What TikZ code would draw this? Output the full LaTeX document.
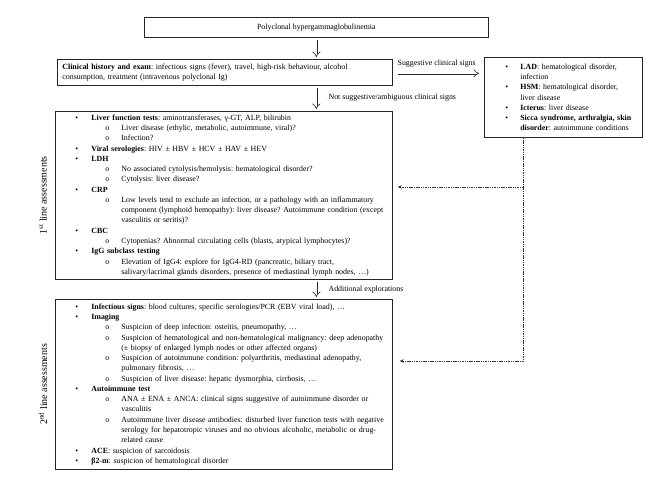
\documentclass[tikz,border=0pt]{standalone}
\usepackage{fontspec}
\setmainfont{Liberation Serif}
\usetikzlibrary{arrows.meta}
\frenchspacing
\newcommand\fs{\fontsize{7.9}{10.27}\selectfont}
\newcommand\bulA[1]{\mbox{\hspace*{20pt}\makebox[16pt][l]{•}#1}}
\newcommand\subA[1]{\mbox{\hspace*{50pt}\makebox[16pt][l]{o}#1}}
\newcommand\contA[1]{\mbox{\hspace*{66pt}#1}}
\newcommand\bulR[1]{\mbox{\hspace*{21pt}\makebox[15pt][l]{•}#1}}
\newcommand\contR[1]{\mbox{\hspace*{36pt}#1}}
\tikzset{
  box/.style={draw=black!85, line width=0.7pt, inner sep=0pt, align=left, font=\fs, anchor=north west},
  dbl/.style={double, double distance=2.2pt, line width=0.6pt, draw=black!85, -{Implies}},
  dsh/.style={draw=black!80, line width=0.6pt, dash pattern=on 1.5pt off 0.8pt, -{Stealth[length=4pt,width=3.5pt]}},
  lab/.style={font=\fs, inner sep=0pt},
  side/.style={font=\fontsize{10}{12}\selectfont, rotate=90, inner sep=0pt}
}
\begin{document}
\begin{tikzpicture}[x=1pt,y=-1pt]
\useasboundingbox[fill=white] (0,0) rectangle (661,482);

\node[box, minimum width=344pt, minimum height=20pt, align=center] (top) at (144,17) {Polyclonal hypergammaglobulinemia};

\node[box, text width=325pt, inner xsep=5pt, minimum height=26pt] (clin) at (57,59)
{\makebox[325pt][s]{\textbf{Clinical history and exam}: infectious signs (fever), travel, high-risk behaviour, alcohol}\\
consumption, treatment (intravenous polyclonal Ig)};

\node[box, text width=158pt, minimum height=80pt] (right) at (484,57)
{\bulR{\textbf{LAD}: hematological disorder,}\\
\contR{infection}\\
\bulR{\textbf{HSM}: hematological disorder,}\\
\contR{liver disease}\\
\bulR{\textbf{Icterus}: liver disease}\\
\bulR{\textbf{Sicca syndrome, arthralgia, skin}}\\
\contR{\textbf{disorder}: autoimmune conditions}};

\node[box, text width=337pt, minimum height=168pt] (first) at (55,111)
{\bulA{\textbf{Liver function tests}: aminotransferases, γ-GT, ALP, bilirubin}\\
\subA{Liver disease (ethylic, metabolic, autoimmune, viral)?}\\
\subA{Infection?}\\
\bulA{\textbf{Viral serologies}: HIV ± HBV ± HCV ± HAV ± HEV}\\
\bulA{\textbf{LDH}}\\
\subA{No associated cytolysis/hemolysis: hematological disorder?}\\
\subA{Cytolysis: liver disease?}\\
\bulA{\textbf{CRP}}\\
\subA{Low levels tend to exclude an infection, or a pathology with an inflammatory}\\
\contA{component (lymphoid hemopathy): liver disease? Autoimmune condition (except}\\
\contA{vasculitis or seritis)?}\\
\bulA{\textbf{CBC}}\\
\subA{Cytopenias? Abnormal circulating cells (blasts, atypical lymphocytes)?}\\
\bulA{\textbf{IgG subclass testing}}\\
\subA{Elevation of IgG4: explore for IgG4-RD (pancreatic, biliary tract,}\\
\contA{salivary/lacrimal glands disorders, presence of mediastinal lymph nodes, …)}};

\node[box, text width=337pt, minimum height=170pt] (second) at (55,299)
{\bulA{\textbf{Infectious signs}: blood cultures, specific serologies/PCR (EBV viral load), …}\\
\bulA{\textbf{Imaging}}\\
\subA{Suspicion of deep infection: osteitis, pneumopathy, …}\\
\subA{Suspicion of hematological and non-hematological malignancy: deep adenopathy}\\
\contA{(± biopsy of enlarged lymph nodes or other affected organs)}\\
\subA{Suspicion of autoimmune condition: polyarthritis, mediastinal adenopathy,}\\
\contA{pulmonary fibrosis, …}\\
\subA{Suspicion of liver disease: hepatic dysmorphia, cirrhosis, …}\\
\bulA{\textbf{Autoimmune test}}\\
\subA{ANA ± ENA ± ANCA: clinical signs suggestive of autoimmune disorder or}\\
\contA{vasculitis}\\
\subA{Autoimmune liver disease antibodies: disturbed liver function tests with negative}\\
\contA{serology for hepatotropic viruses and no obvious alcoholic, metabolic or drug-}\\
\contA{related cause}\\
\bulA{\textbf{ACE}: suspicion of sarcoidosis}\\
\bulA{\textbf{β2-m}: suspicion of hematological disorder}};

\node[side] (s1) at ([xshift=-12pt]first.west) {1\textsuperscript{st} line assessments};
\node[side] (s2) at ([xshift=-12pt]second.west) {2\textsuperscript{nd} line assessments};

% vertical arrows
\draw[dbl] ([yshift=-2pt]top.south) -- ([yshift=2pt]top.south |- clin.north);
\draw[dbl] ([yshift=-2pt]top.south |- clin.south) -- ([yshift=2pt]top.south |- first.north);
\draw[dbl] ([yshift=-2pt]top.south |- first.south) -- ([yshift=2pt]top.south |- second.north);
\node[lab, anchor=west] (l1) at ([xshift=12pt,yshift=-12pt]top.south |- clin.south) {Not suggestive/ambiguous clinical signs};
\node[lab, anchor=west] (l2) at ([xshift=12pt,yshift=-10pt]top.south |- first.south) {Additional explorations};

% horizontal arrow
\draw[dbl] ([xshift=5pt,yshift=-1pt]clin.east) -- ([xshift=-5pt,yshift=-1pt]clin.east -| right.west);
\node[lab, anchor=south] (l3) at ([xshift=44pt,yshift=5pt]clin.east) {Suggestive clinical signs};

% dashed connectors
\coordinate (d0) at ([xshift=-40pt]right.south);
\coordinate (d1) at ([yshift=-76pt]first.north -| d0);
\coordinate (d2) at ([yshift=-62pt]second.north -| d0);
\draw[dsh] (d0) -- (d2) -- ([xshift=7pt]second.east |- d2);
\draw[dsh] (d1) -- ([xshift=5pt]first.east |- d1);
\end{tikzpicture}
\end{document}
